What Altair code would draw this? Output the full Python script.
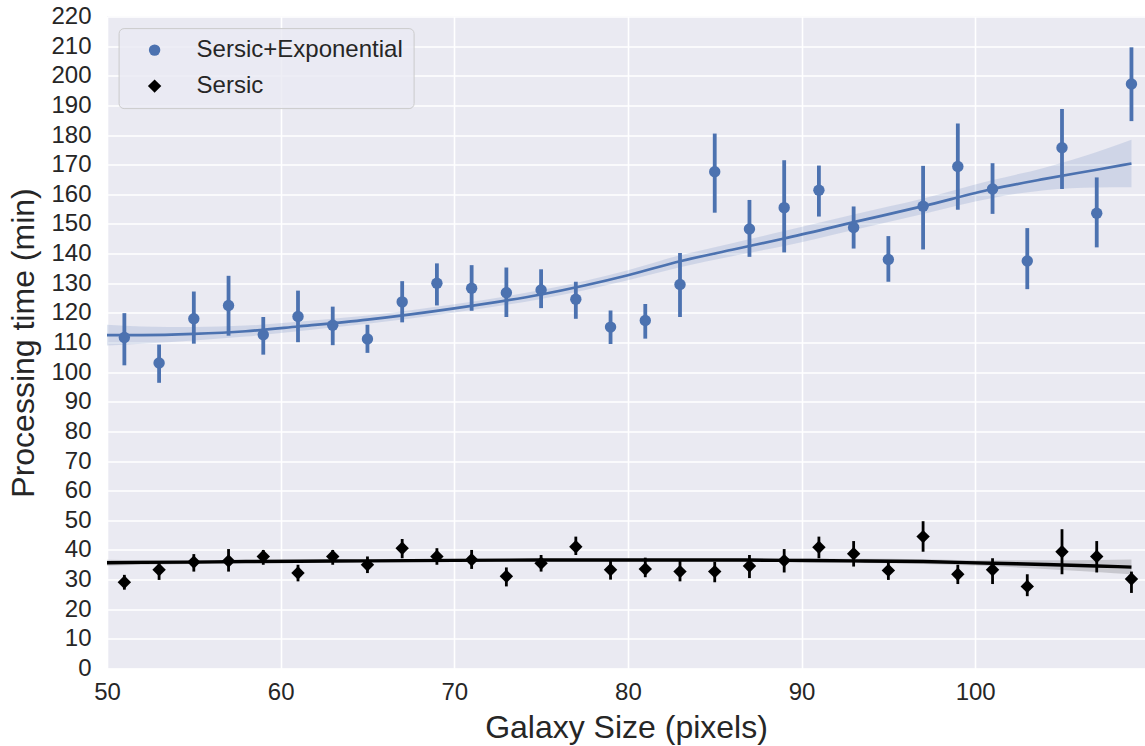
import altair as alt
import pandas as pd

# ---- data ----
sizes = [51, 53, 55, 57, 59, 61, 63, 65, 67, 69, 71, 73, 75, 77, 79,
         81, 83, 85, 87, 89, 91, 93, 95, 97, 99, 101, 103, 105, 107, 109]

se_mean = [111.7, 103.1, 118.0, 122.5, 112.6, 118.8, 115.8, 111.2, 123.7, 130.0,
           128.3, 126.8, 127.7, 124.6, 115.2, 117.4, 129.6, 167.6, 148.3, 155.5,
           161.4, 148.8, 138.0, 156.0, 169.4, 161.8, 137.5, 175.7, 153.6, 197.2]
se_lo = [102.3, 96.4, 109.6, 112.3, 105.9, 110.1, 109.1, 106.5, 116.8, 122.5,
         120.7, 118.6, 121.6, 118.0, 109.5, 111.3, 118.6, 153.8, 138.9, 140.4,
         152.5, 141.7, 130.5, 141.4, 154.8, 153.4, 128.0, 161.8, 142.1, 184.7]
se_hi = [119.9, 109.3, 127.2, 132.5, 118.6, 127.5, 122.1, 116.0, 130.7, 136.7,
         136.1, 135.3, 134.7, 130.5, 120.8, 123.0, 140.2, 180.5, 158.1, 171.5,
         169.7, 155.9, 145.9, 169.6, 183.9, 170.5, 148.6, 188.8, 165.7, 209.6]

s_mean = [29.1, 33.3, 35.9, 36.3, 37.8, 32.2, 37.8, 35.0, 40.6, 37.8,
          36.7, 31.1, 35.5, 41.1, 33.3, 33.6, 32.7, 32.7, 34.6, 36.4,
          40.9, 38.7, 33.1, 44.5, 31.8, 33.3, 27.7, 39.4, 37.8, 30.2]
s_lo = [26.6, 29.9, 32.7, 32.7, 35.0, 29.4, 35.0, 32.2, 37.2, 35.0,
        33.6, 27.7, 32.7, 38.3, 30.0, 30.8, 29.4, 29.1, 30.5, 32.4,
        37.2, 34.4, 29.9, 39.4, 28.5, 28.5, 24.4, 31.8, 32.4, 25.5]
s_hi = [31.6, 35.8, 38.6, 40.3, 40.0, 35.0, 40.0, 37.8, 43.7, 40.6,
        40.0, 34.1, 38.3, 44.5, 36.6, 37.4, 36.3, 36.0, 38.3, 40.3,
        44.5, 43.0, 36.1, 49.7, 35.0, 37.2, 31.8, 47.0, 43.0, 32.7]

# fitted curves and confidence bands
fit_x = [50, 52, 55, 58, 61, 65, 70, 75, 80, 83, 86, 89, 93, 97, 101, 104, 107, 109]
se_fit = [112.5, 112.5, 112.9, 113.8, 115.4, 117.7, 121.5, 126.2, 132.7, 137.4,
          141.3, 145.1, 150.6, 156.0, 161.8, 165.2, 168.3, 170.4]
se_fit_lo = [109.0, 109.6, 110.7, 112.0, 113.8, 116.3, 120.1, 124.7, 131.0, 135.4,
             139.1, 142.6, 148.0, 153.4, 158.8, 161.4, 162.3, 162.4]
se_fit_hi = [116.0, 115.4, 115.2, 115.7, 117.0, 119.1, 122.9, 127.7, 134.4, 139.4,
             143.5, 147.6, 153.2, 158.6, 164.8, 169.0, 174.3, 178.4]
s_fit = [35.7, 35.8, 35.9, 36.1, 36.2, 36.3, 36.5, 36.6, 36.6, 36.6,
         36.6, 36.5, 36.3, 36.1, 35.5, 35.1, 34.6, 34.2]
s_fit_lo = [34.7, 35.0, 35.3, 35.6, 35.8, 35.9, 36.1, 36.2, 36.2, 36.2,
            36.1, 35.9, 35.6, 35.3, 34.5, 33.6, 32.6, 31.8]
s_fit_hi = [36.7, 36.6, 36.5, 36.6, 36.6, 36.7, 36.9, 37.0, 37.0, 37.0,
            37.1, 37.1, 37.0, 36.9, 36.5, 36.5, 36.6, 36.8]

x_ticks = [50, 60, 70, 80, 90, 100]
y_ticks = [0, 10, 20, 30, 40, 50, 60, 70, 80, 90, 100, 110, 120, 130, 140,
           150, 160, 170, 180, 190, 200, 210, 220]

series_names = ["Sersic+Exponential", "Sersic"]
BLUE = "#4C72B0"
TEXT = "#262626"
FONT = "Liberation Sans"

# ---- tables ----
df_se = pd.DataFrame({"size": sizes, "mean": se_mean, "lo": se_lo, "hi": se_hi,
                      "series": series_names[0]})
df_s = pd.DataFrame({"size": sizes, "mean": s_mean, "lo": s_lo, "hi": s_hi,
                     "series": series_names[1]})
df_pts = pd.concat([df_se, df_s], ignore_index=True)
fit_se = pd.DataFrame({"size": fit_x, "fit": se_fit, "lo": se_fit_lo, "hi": se_fit_hi})
fit_s = pd.DataFrame({"size": fit_x, "fit": s_fit, "lo": s_fit_lo, "hi": s_fit_hi})

xscale = alt.Scale(domain=[50, 109.78], nice=False, zero=False)
yscale = alt.Scale(domain=[0, 220], nice=False)

xax = alt.Axis(values=x_ticks, title="Galaxy Size (pixels)",
               labelFlush=False, labelOverlap=False, labelPadding=12,
               titleX=519, titleY=68.7,
               titleBaseline="alphabetic", titleAlign="center")
yax = alt.Axis(values=y_ticks, title="Processing time (min)",
               labelOverlap=False, labelPadding=16, titleX=-74, titleY=326, titleAngle=270,
               titleBaseline="alphabetic", titleAlign="center")


def X():
    return alt.X("size:Q", scale=xscale, axis=xax, title="Galaxy Size (pixels)")


def Y(field):
    return alt.Y(field, scale=yscale, axis=yax, title="Processing time (min)")


band_se = alt.Chart(fit_se).mark_area(color=BLUE, opacity=0.17, interpolate="monotone").encode(
    x=X(), y=Y("lo:Q"), y2="hi:Q")
band_s = alt.Chart(fit_s).mark_area(color="black", opacity=0.15, interpolate="monotone").encode(
    x=X(), y=Y("lo:Q"), y2="hi:Q")

err_se = alt.Chart(df_se).mark_rule(color=BLUE, strokeWidth=3.8).encode(
    x=X(), y=Y("lo:Q"), y2="hi:Q")
err_s = alt.Chart(df_s).mark_rule(color="black", strokeWidth=2.8).encode(
    x=X(), y=Y("lo:Q"), y2="hi:Q")

legend = alt.Legend(title=None, orient="none", legendX=11.6, legendY=11.6, padding=10,
                    fillColor="rgba(234,234,242,0.8)", strokeColor="#cccccc",
                    cornerRadius=5, labelFontSize=24, labelFont=FONT, labelColor=TEXT,
                    labelLimit=0, rowPadding=12, symbolOffset=14, labelOffset=30,
                    symbolStrokeWidth=0)

pts = alt.Chart(df_pts).mark_point(filled=True, opacity=1, strokeWidth=0).encode(
    x=X(),
    y=Y("mean:Q"),
    color=alt.Color("series:N", scale=alt.Scale(domain=series_names, range=[BLUE, "black"]),
                    legend=legend),
    shape=alt.Shape("series:N", scale=alt.Scale(domain=series_names, range=["circle", "diamond"]),
                    legend=legend),
    size=alt.Size("series:N", scale=alt.Scale(domain=series_names, range=[130, 180]),
                  legend=legend),
)

line_se = alt.Chart(fit_se).mark_line(color=BLUE, strokeWidth=2.7, interpolate="monotone").encode(
    x=X(), y=Y("fit:Q"))
line_s = alt.Chart(fit_s).mark_line(color="black", strokeWidth=3.4, interpolate="monotone").encode(
    x=X(), y=Y("fit:Q"))

chart = alt.layer(band_se, err_se, band_s, err_s, pts, line_se, line_s).properties(
    width=1038, height=652,
    autosize=alt.AutoSizeParams(type="none"),
    padding={"left": 107, "top": 16.5, "right": 0, "bottom": 77.5},
    background="white",
).configure_view(
    fill="#EAEAF2", stroke=None
).configure_axis(
    grid=True, gridColor="white", gridWidth=1.6, gridOpacity=1,
    domain=False, ticks=False, tickSize=0, labelOverlap=False,
    labelFont=FONT, labelFontSize=24, labelColor=TEXT,
    titleFont=FONT, titleFontSize=32, titleFontWeight="normal", titleColor=TEXT,
)

chart.save("out.html", embed_options={"renderer": "svg", "actions": False})
